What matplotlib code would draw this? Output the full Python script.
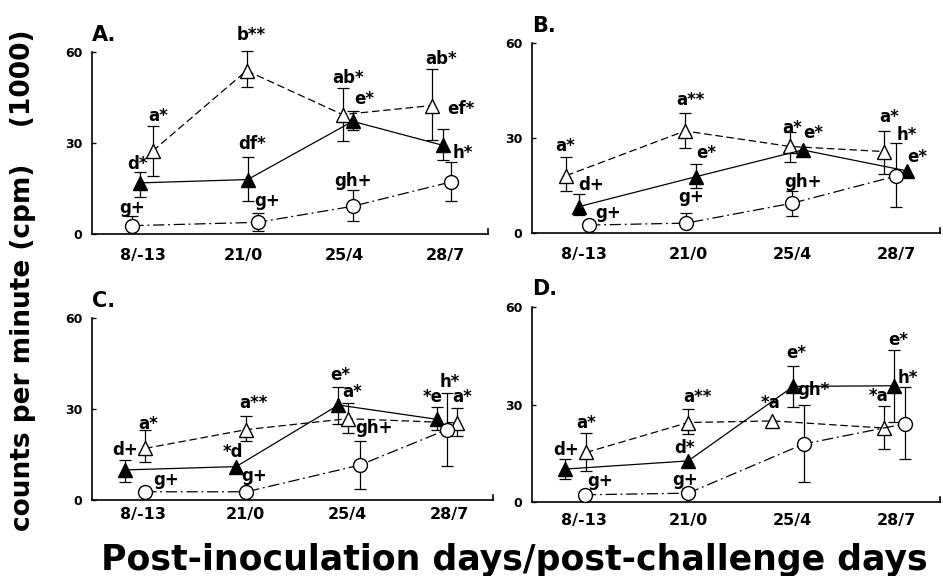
import numpy as np
import matplotlib.pyplot as plt

nan = np.nan
days = ['8/-13', '21/0', '25/4', '28/7']
yticks = [0, 30, 60]

# panel A  (open triangle / filled triangle / open circle), values in cpm x 1000
a_open = [27.3, 53.8, 39.3, 42.3]
a_open_hi = [35.7, 60.2, 48.1, 54.2]
a_open_lo = [19.0, 48.4, 30.5, 31.1]
a_fill = [16.8, 17.9, 37.1, 29.2]
a_fill_hi = [20.3, 25.3, 40.4, 34.6]
a_fill_lo = [12.2, 10.8, 34.1, 24.3]
a_circ = [2.7, 3.8, 9.1, 17.1]
a_circ_hi = [5.8, 6.9, 14.4, 23.7]
a_circ_lo = [nan, 0.9, 4.2, 10.8]

# panel B
b_open = [18.2, 32.3, 27.4, 25.8]
b_open_hi = [24.0, 38.1, 32.1, 32.4]
b_open_lo = [13.2, 27.0, 22.6, 18.7]
b_fill = [8.4, 17.9, 26.3, 19.7]
b_fill_hi = [12.3, 21.9, nan, nan]
b_fill_lo = [5.8, 14.2, nan, nan]
b_circ = [2.6, 3.2, 9.5, 18.1]
b_circ_hi = [nan, 6.3, 13.5, 28.6]
b_circ_lo = [nan, nan, 5.5, 8.4]

# panel C
c_open = [17.0, 23.2, 26.8, 25.4]
c_open_hi = [23.0, 27.7, 31.8, 30.4]
c_open_lo = [12.6, 19.4, 22.1, 21.2]
c_fill = [9.9, 11.0, 31.3, 26.6]
c_fill_hi = [13.2, nan, 37.1, 30.5]
c_fill_lo = [5.8, nan, 25.2, 23.0]
c_circ = [2.7, 2.7, 11.5, 23.2]
c_circ_hi = [nan, nan, 19.5, 35.3]
c_circ_lo = [nan, nan, 3.6, 11.3]

# panel D
d_open = [15.3, 24.5, 25.0, 22.8]
d_open_hi = [21.4, 28.7, nan, 29.7]
d_open_lo = [9.6, 20.9, nan, 16.3]
d_fill = [10.2, 12.7, 35.6, 35.8]
d_fill_hi = [13.2, nan, 42.0, 46.9]
d_fill_lo = [7.1, nan, 29.2, 24.8]
d_circ = [2.3, 2.8, 17.9, 24.1]
d_circ_hi = [nan, 4.3, 29.9, 35.4]
d_circ_lo = [nan, nan, 6.2, 13.2]

# significance letters per panel
a_labels = ['a*', 'b**', 'ab*', 'ab*', 'd*', 'df*', 'e*', 'ef*', 'h*', 'g+', 'g+', 'gh+']
b_labels = ['a*', 'a**', 'a*', 'a*', 'd+', 'e*', 'e*', 'h*', 'e*', 'g+', 'g+', 'gh+']
c_labels = ['a*', 'a**', 'a*', 'a*', 'd+', '*d', 'e*', '*e', 'h*', 'g+', 'g+', 'gh+']
d_labels = ['a*', 'a**', '*a', '*a', 'd+', 'd*', 'e*', 'e*', 'h*', 'g+', 'g+', 'gh*']
label_cat = [0, 1, 2, 3, 0, 1, 2, 3, 3, 0, 1, 2]

# ---- layout: horizontal dodge of markers and label placement ----
dodge = {
    'A': ([0.10, 0.03, -0.02, -0.14], [-0.03, 0.04, 0.08, -0.03], [-0.10, 0.14, 0.08, 0.05]),
    'B': ([-0.17, -0.03, -0.02, -0.12], [-0.05, 0.08, 0.10, 0.10], [0.05, -0.02, 0.0, 0.0]),
    'C': ([0.02, 0.01, 0.0, 0.07], [-0.18, -0.09, -0.09, -0.13], [0.02, 0.01, 0.12, -0.03]),
    'D': ([0.02, 0.0, -0.19, -0.12], [-0.18, 0.0, 0.01, -0.02], [0.01, 0.0, 0.11, 0.08]),
}
label_xy = {
    'A': [(0.15, 38.8), (0.08, 65.7), (0.03, 51.4), (-0.05, 57.5), (-0.05, 22.9), (0.08, 29.5),
          (0.19, 44.3), (0.15, 41.0), (0.17, 26.7), (-0.10, 8.6), (0.23, 10.8), (0.08, 17.4)],
    'B': [(-0.18, 27.4), (0.02, 42.1), (0.0, 33.2), (-0.07, 36.8), (0.07, 15.3), (0.17, 25.3),
          (0.20, 31.6), (0.10, 31.0), (0.20, 24.2), (0.23, 6.3), (0.03, 11.6), (0.10, 16.3)],
    'C': [(0.05, 25.2), (0.08, 31.8), (0.04, 35.6), (0.12, 34.0), (-0.18, 16.4), (-0.12, 15.9),
          (-0.07, 41.1), (-0.17, 34.0), (0.0, 38.9), (0.22, 6.6), (0.09, 7.9), (0.26, 23.6)],
    'D': [(0.02, 24.5), (0.09, 32.5), (-0.21, 30.5), (-0.17, 32.7), (-0.17, 16.1), (-0.03, 16.6),
          (0.04, 45.8), (0.02, 49.9), (0.11, 38.2), (0.16, 6.4), (-0.03, 6.9), (0.20, 34.6)],
}
axes_rect = {
    'A': [0.0976, 0.594, 0.42, 0.316],
    'B': [0.564, 0.595, 0.433, 0.330],
    'C': [0.0976, 0.132, 0.425, 0.316],
    'D': [0.564, 0.128, 0.433, 0.339],
}
xtick_pad = {'A': 10, 'B': 10, 'C': 5, 'D': 8}

panels = {
    'A': ((a_open, a_open_hi, a_open_lo), (a_fill, a_fill_hi, a_fill_lo), (a_circ, a_circ_hi, a_circ_lo), a_labels),
    'B': ((b_open, b_open_hi, b_open_lo), (b_fill, b_fill_hi, b_fill_lo), (b_circ, b_circ_hi, b_circ_lo), b_labels),
    'C': ((c_open, c_open_hi, c_open_lo), (c_fill, c_fill_hi, c_fill_lo), (c_circ, c_circ_hi, c_circ_lo), c_labels),
    'D': ((d_open, d_open_hi, d_open_lo), (d_fill, d_fill_hi, d_fill_lo), (d_circ, d_circ_hi, d_circ_lo), d_labels),
}

styles = [
    dict(marker='^', mfc='white', ls=(0, (6, 3))),
    dict(marker='^', mfc='black', ls='-'),
    dict(marker='o', mfc='white', ls=(0, (9, 3, 1.5, 3))),
]

FONT = 'DejaVu Sans'


def draw_errors(ax, x, y, ends):
    ends = np.asarray(ends, dtype=float)
    ax.vlines(x, y, ends, color='black', lw=0.9, zorder=2, clip_on=False)
    ax.plot(x, ends, ls='none', marker='_', ms=9, mew=0.9, color='black', zorder=2, clip_on=False)


fig = plt.figure(figsize=(9.43, 5.76), dpi=100)
cats = np.arange(len(days))

for key, (s_open, s_fill, s_circ, labels) in panels.items():
    ax = fig.add_axes(axes_rect[key])
    for series, st, dx in zip((s_open, s_fill, s_circ), styles, dodge[key]):
        vals, hi, lo = series
        x = cats + np.array(dx)
        draw_errors(ax, x, vals, hi)
        draw_errors(ax, x, vals, lo)
        ax.plot(x, vals, color='black', lw=0.9, marker=st['marker'], mfc=st['mfc'],
                mec='black', mew=1.0, ms=10, ls=st['ls'], zorder=3, clip_on=False)
    for (lx, ly), txt, c in zip(label_xy[key], labels, label_cat):
        ax.text(c + lx, ly, txt, ha='center', va='center', fontsize=12,
                fontweight='bold', family=FONT, clip_on=False)

    ax.set_xlim(-0.5, 3.42)
    ax.set_ylim(0, 60)
    ax.set_xticks(cats)
    ax.set_xticklabels(days, fontsize=11.5, fontweight='bold', family=FONT)
    ax.set_yticks(yticks)
    ax.set_yticklabels([str(t) for t in yticks], fontsize=9, fontweight='bold', family=FONT)
    ax.tick_params(axis='x', length=0, pad=xtick_pad[key])
    ax.tick_params(axis='y', direction='in', length=3, width=1, pad=7)
    ax.spines['top'].set_visible(False)
    ax.spines['right'].set_bounds(0, 1.6)
    for side in ('left', 'bottom', 'right'):
        ax.spines[side].set_linewidth(1.2)
    ax.text(0.0, 1.04, key + '.', transform=ax.transAxes, fontsize=15,
            fontweight='bold', family=FONT, ha='left', va='bottom')

fig.text(0.0244, 0.514, 'counts per minute (cpm)    (1000)', rotation=90,
         ha='center', va='center', fontsize=19, fontweight='bold', family=FONT)
fig.text(0.545, 0.0104, 'Post-inoculation days/post-challenge days', ha='center',
         va='baseline', fontsize=25, fontweight='bold', family=FONT)

fig.savefig('out.png', dpi=100)
